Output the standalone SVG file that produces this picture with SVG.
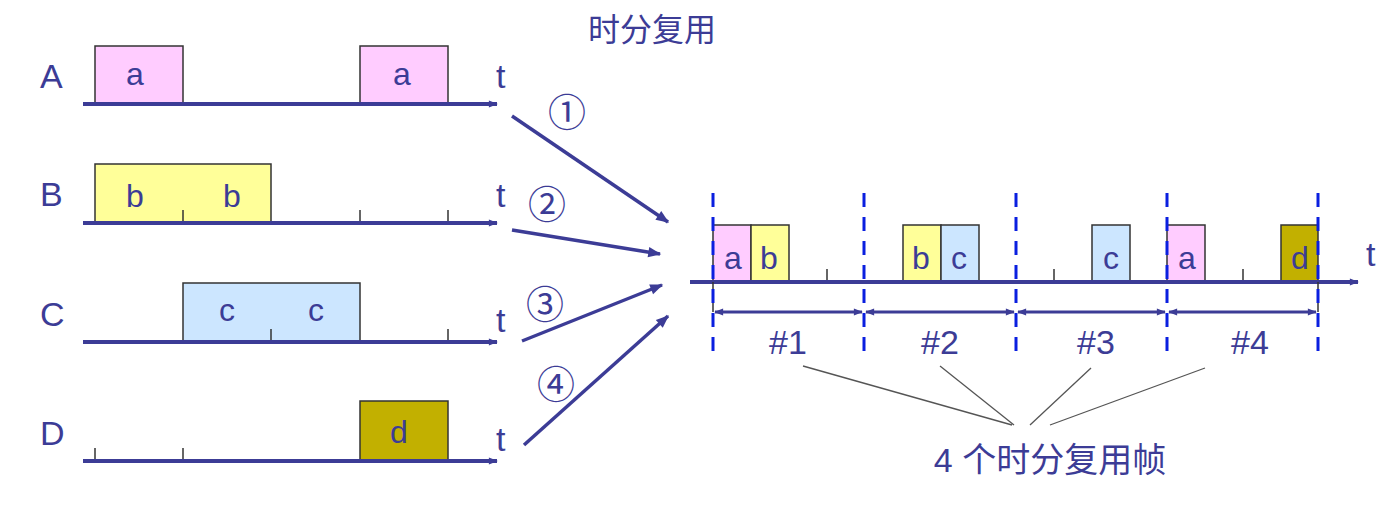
<svg xmlns="http://www.w3.org/2000/svg" width="1385" height="506" viewBox="0 0 1385 506">
<defs>
<marker id="ah" viewBox="0 0 10 10" refX="9" refY="5" markerWidth="12" markerHeight="9" markerUnits="userSpaceOnUse" orient="auto"><path d="M0,1 L10,5 L0,9 Z" fill="#3c3c96"/></marker>
<marker id="ab" viewBox="0 0 10 10" refX="9" refY="5" markerWidth="16" markerHeight="13" markerUnits="userSpaceOnUse" orient="auto"><path d="M0,1 L10,5 L0,9 Z" fill="#3c3c96"/></marker>
<marker id="as" viewBox="0 0 10 10" refX="1" refY="5" markerWidth="12" markerHeight="9" markerUnits="userSpaceOnUse" orient="auto"><path d="M0,5 L10,1 L10,9 Z" fill="#3c3c96"/></marker>
</defs>
<style>
text{font-family:"Liberation Sans","Noto Sans CJK SC",sans-serif;fill:#3c3c96}
.lbl{font-size:34px}
.in{font-size:32px;text-anchor:middle}
.ax{stroke:#3c3c96;stroke-width:4;fill:none}
.tk{stroke:#333;stroke-width:1.5}
.bx{stroke:#333;stroke-width:1.5}
.pa{fill:#ffccff}.pb{fill:#ffff99}.pc{fill:#cce6ff}.pd{fill:#c2b000}
.dash{stroke:#0a1fe0;stroke-width:3;stroke-dasharray:14,10}
.cn{stroke:#3c3c96;stroke-width:3.5;fill:none}
.ln{stroke:#555;stroke-width:1.3}
.hash{font-size:34px;text-anchor:middle}
.circ{font-size:38px;text-anchor:middle}
</style>
<rect width="1385" height="506" fill="#fff"/>
<text x="652" y="41" font-size="32" text-anchor="middle">时分复用</text>
<g id="A">
<text class="lbl" x="40" y="88">A</text>
<rect class="bx pa" x="95" y="46" width="88" height="58"/><rect class="bx pa" x="360" y="46" width="88" height="58"/>
<text class="in" x="135" y="85">a</text><text class="in" x="402" y="85">a</text>
<line class="ax" x1="83" y1="104" x2="497" y2="104" marker-end="url(#ah)"/>
<text class="lbl" x="496" y="88">t</text>
</g>
<g id="B">
<text class="lbl" x="40" y="206">B</text>
<rect class="bx pb" x="95" y="164" width="176" height="59"/>
<text class="in" x="135" y="207">b</text><text class="in" x="232" y="207">b</text>
<line class="tk" x1="183" y1="210" x2="183" y2="223"/><line class="tk" x1="360" y1="210" x2="360" y2="223"/><line class="tk" x1="448" y1="210" x2="448" y2="223"/>
<line class="ax" x1="83" y1="223" x2="497" y2="223" marker-end="url(#ah)"/>
<text class="lbl" x="496" y="207">t</text>
</g>
<g id="C">
<text class="lbl" x="40" y="326">C</text>
<rect class="bx pc" x="183" y="283" width="177" height="59"/>
<text class="in" x="227" y="321">c</text><text class="in" x="316" y="321">c</text>
<line class="tk" x1="271" y1="329" x2="271" y2="342"/><line class="tk" x1="448" y1="329" x2="448" y2="342"/>
<line class="ax" x1="83" y1="342" x2="497" y2="342" marker-end="url(#ah)"/>
<text class="lbl" x="496" y="332">t</text>
</g>
<g id="D">
<text class="lbl" x="40" y="445">D</text>
<rect class="bx pd" x="360" y="401" width="88" height="60"/>
<text class="in" x="399" y="443">d</text>
<line class="tk" x1="95" y1="448" x2="95" y2="461"/><line class="tk" x1="183" y1="448" x2="183" y2="461"/>
<line class="ax" x1="83" y1="461" x2="497" y2="461" marker-end="url(#ah)"/>
<text class="lbl" x="496" y="451">t</text>
</g>
<g id="mux">
<rect class="bx pa" x="713" y="225" width="38" height="57"/><rect class="bx pb" x="751" y="225" width="38" height="57"/>
<rect class="bx pb" x="903" y="225" width="38" height="57"/><rect class="bx pc" x="941" y="225" width="38" height="57"/>
<rect class="bx pc" x="1092" y="225" width="38" height="57"/>
<rect class="bx pa" x="1167" y="225" width="38" height="57"/><rect class="bx pd" x="1281" y="225" width="37" height="57"/>
<text class="in" x="733" y="269">a</text><text class="in" x="769" y="269">b</text>
<text class="in" x="921" y="269">b</text><text class="in" x="959" y="269">c</text>
<text class="in" x="1111" y="269">c</text>
<text class="in" x="1187" y="269">a</text><text class="in" x="1300" y="269">d</text>
<line class="tk" x1="827" y1="269" x2="827" y2="282"/><line class="tk" x1="1054" y1="269" x2="1054" y2="282"/><line class="tk" x1="1243" y1="269" x2="1243" y2="282"/>
<line class="ax" x1="690" y1="282" x2="1358" y2="282" marker-end="url(#ah)"/>
<text class="lbl" x="1366" y="266">t</text>
<line class="tk" x1="713" y1="282" x2="713" y2="312"/><line class="tk" x1="1318" y1="282" x2="1318" y2="312"/>
<g stroke="#3c3c96" stroke-width="3">
<line x1="715" y1="312" x2="862" y2="312" marker-start="url(#as)" marker-end="url(#ah)"/>
<line x1="866" y1="312" x2="1014" y2="312" marker-start="url(#as)" marker-end="url(#ah)"/>
<line x1="1018" y1="312" x2="1165" y2="312" marker-start="url(#as)" marker-end="url(#ah)"/>
<line x1="1169" y1="312" x2="1316" y2="312" marker-start="url(#as)" marker-end="url(#ah)"/>
</g>
<text class="hash" x="788" y="354">#1</text><text class="hash" x="940" y="354">#2</text>
<text class="hash" x="1096" y="354">#3</text><text class="hash" x="1250" y="354">#4</text>
<g class="dash">
<line x1="713" y1="193" x2="713" y2="356"/><line x1="864" y1="193" x2="864" y2="356"/><line x1="1016" y1="193" x2="1016" y2="356"/><line x1="1167" y1="193" x2="1167" y2="356"/><line x1="1318" y1="193" x2="1318" y2="356"/>
</g>
<g class="ln">
<line x1="803" y1="366" x2="1012" y2="425"/><line x1="940" y1="366" x2="1014" y2="425"/><line x1="1091" y1="368" x2="1030" y2="425"/><line x1="1205" y1="368" x2="1050" y2="425"/>
</g>
<text x="1050" y="472" font-size="34" text-anchor="middle">4 个时分复用帧</text>
</g>
<g id="connectors">
<line class="cn" x1="512" y1="116" x2="668" y2="222" marker-end="url(#ab)"/>
<line class="cn" x1="512" y1="230" x2="660" y2="254" marker-end="url(#ab)"/>
<line class="cn" x1="522" y1="341" x2="662" y2="285" marker-end="url(#ab)"/>
<line class="cn" x1="524" y1="445" x2="668" y2="316" marker-end="url(#ab)"/>
<text class="circ" x="567" y="126">①</text>
<text class="circ" x="547" y="218">②</text>
<text class="circ" x="545" y="318">③</text>
<text class="circ" x="556" y="398">④</text>
</g>
</svg>
